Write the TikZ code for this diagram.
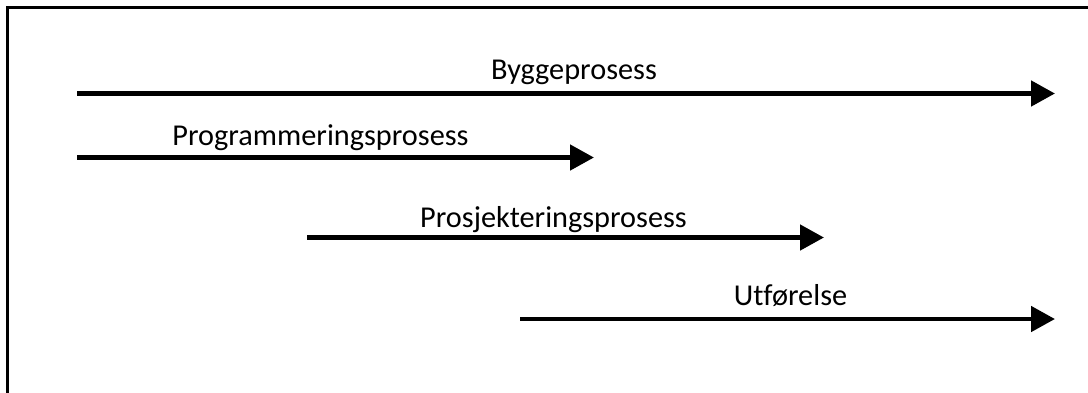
\documentclass[tikz,border=0pt]{standalone}
\usepackage{fontspec}
\setmainfont[Ligatures=NoCommon]{Carlito}
\usetikzlibrary{arrows.meta}
\tikzstyle{arrow} = [-{Triangle[length=24pt,width=25pt]},line width=4.8pt]
\tikzstyle{label} = [anchor=base,inner sep=0pt,font=\fontsize{30.3}{36}\selectfont]

\begin{document}
\begin{tikzpicture}[x=1pt,y=-1pt]
      \useasboundingbox (0,0) rectangle (1088,392);
      \begin{scope}
        \clip (0,0) rectangle (1088,392);
        \draw[line width=3.2pt] (7.5,7.5) rectangle (1110,410);
      \end{scope}
      % start and end of each process
      \coordinate (bygS) at (77,93.5);
      \coordinate (bygE) at (1055,93.5);
      \coordinate (progS) at (77,157.5);
      \coordinate (progE) at (594,157.5);
      \coordinate (prosS) at (307,237.5);
      \coordinate (prosE) at (824,237.5);
      \coordinate (utfS) at (520,319);
      \coordinate (utfE) at (1055,319);
      \draw[arrow] (bygS)--(bygE);
      \draw[arrow] (progS)--(progE);
      \draw[arrow] (prosS)--(prosE);
      \draw[arrow] (utfS)--(utfE);
      \node[label] (byg) at (574,79) {Byggeprosess};
      \node[label] (prog) at (320.5,145) {Programmeringsprosess};
      \node[label] (pros) at (553.5,227) {Prosjekteringsprosess};
      \node[label] (utf) at (790.5,305) {Utførelse};
\end{tikzpicture}
\end{document}
